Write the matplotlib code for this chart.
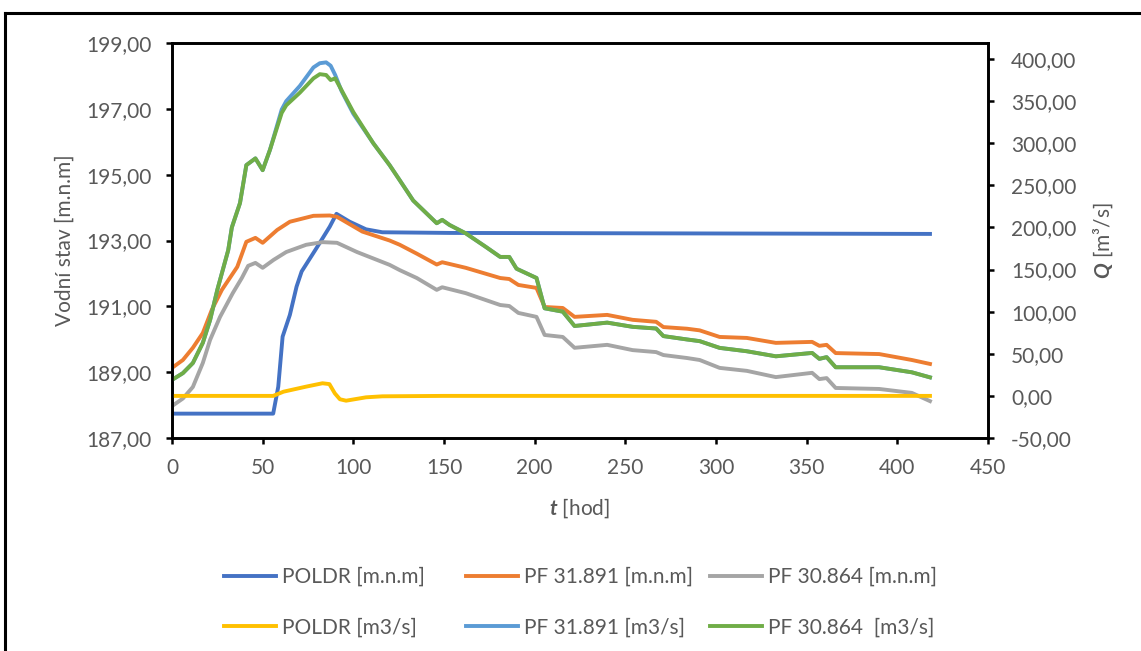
import matplotlib
matplotlib.use("Agg")
import matplotlib.pyplot as plt
from matplotlib.lines import Line2D
from matplotlib.ticker import FuncFormatter, MultipleLocator

plt.rcParams['font.family'] = ['Lato', 'DejaVu Sans']
plt.rcParams['mathtext.fontset'] = 'custom'
plt.rcParams['mathtext.rm'] = 'Lato'
plt.rcParams['mathtext.bfit'] = 'Lato:bold:italic'

# --- data ---
t_poldr_h = [0, 55.8, 58.6, 61, 65, 68.7, 71.5, 79.7, 87, 90.7, 98, 107, 116, 153, 418]
h_poldr = [187.74, 187.74, 188.56, 190.08, 190.74, 191.6, 192.06, 192.77, 193.42, 193.81,
           193.57, 193.34, 193.25, 193.23, 193.2]

t_pf1_h = [0, 6, 11.5, 17, 22, 27.5, 36, 41, 46, 50, 58, 65, 78, 87, 91, 105, 120, 125.6, 135,
           146, 149, 162, 181, 186, 191, 201, 205.5, 215.5, 222, 240, 254, 267, 271, 284, 291,
           302, 317, 333, 353, 357, 361, 366, 390, 408, 418]
h_pf1 = [189.13, 189.37, 189.74, 190.19, 190.9, 191.5, 192.2, 192.96, 193.08, 192.93, 193.32,
         193.57, 193.75, 193.76, 193.72, 193.27, 193.0, 192.87, 192.6, 192.27, 192.34, 192.17,
         191.86, 191.83, 191.65, 191.56, 190.98, 190.95, 190.68, 190.74, 190.59, 190.53, 190.37,
         190.32, 190.27, 190.07, 190.04, 189.89, 189.92, 189.8, 189.83, 189.58, 189.55, 189.37,
         189.25]

t_pf2_h = [0, 6, 11.5, 17, 21, 26.5, 33.5, 38.5, 42, 46, 50, 56, 63, 74, 83, 91, 102, 120, 125.6,
           135, 146, 149, 162, 181, 186, 191, 201, 205.5, 215.5, 222, 240, 254, 267, 271, 284,
           291, 302, 317, 333, 353, 357, 361, 366, 390, 408, 418]
h_pf2 = [187.97, 188.2, 188.55, 189.28, 189.98, 190.68, 191.4, 191.86, 192.23, 192.32, 192.17,
         192.41, 192.65, 192.87, 192.95, 192.93, 192.65, 192.26, 192.1, 191.86, 191.5, 191.58,
         191.4, 191.04, 191.01, 190.8, 190.68, 190.13, 190.07, 189.74, 189.83, 189.67, 189.61,
         189.52, 189.43, 189.37, 189.13, 189.04, 188.85, 188.98, 188.79, 188.82, 188.52, 188.49,
         188.37, 188.12]

t_poldr_q = [0, 55.8, 61.5, 74, 83, 86.8, 89.8, 92.6, 96, 107, 116, 150, 418]
q_poldr = [0, 0, 5, 11, 15, 14, 3, -4, -5.7, -1.7, -0.5, 0, 0]

t_pf_q = [0, 6, 11.5, 17, 21, 25, 31, 33, 37.5, 41, 46, 50, 54, 60.5, 63, 70.5, 78, 81.5, 85,
          87.5, 90, 93.5, 100, 111, 120, 125.6, 133, 146, 149, 153, 162, 173, 181, 186, 190,
          201, 205.5, 215.5, 222, 240, 254, 267, 271, 284, 291, 302, 317, 333, 353, 357, 361,
          366, 390, 408, 418]
q_pf1 = [19, 27, 39, 63, 90, 126, 173, 200, 229, 274, 282, 268, 292, 340, 350, 368, 390, 395,
         396, 392, 381, 362, 335, 300, 274, 256, 232, 205, 209, 203, 193, 177, 165, 165, 151,
         140, 104, 100, 83, 87, 82, 80, 71, 67, 65, 57, 53, 47, 51, 44, 46, 34, 34, 28, 22]
q_pf2 = [19, 27, 39, 63, 90, 126, 173, 200, 229, 274, 282, 268, 292, 336, 345, 360, 377, 382,
         381, 375, 377, 363, 337, 300, 274, 256, 232, 205, 209, 203, 193, 177, 165, 165, 151,
         140, 104, 100, 83, 87, 82, 80, 71, 67, 65, 57, 53, 47, 51, 44, 46, 34, 34, 28, 22]

h_ticks = [187, 189, 191, 193, 195, 197, 199]

labels = ["POLDR [m.n.m]", "PF 31.891 [m.n.m]", "PF 30.864 [m.n.m]",
          "POLDR [m3/s]", "PF 31.891 [m3/s]", "PF 30.864  [m3/s]"]
colors = ["#4472C4", "#ED7D31", "#A5A5A5", "#FFC000", "#5B9BD5", "#70AD47"]

txt = "#595959"
lw = 2.8

fig = plt.figure(figsize=(11.41, 6.51), dpi=100)
ax = fig.add_axes([172 / 1141, 1 - 438 / 651, 816 / 1141, 395 / 651])
ax2 = ax.twinx()

l1, = ax.plot(t_poldr_h, h_poldr, color=colors[0], lw=lw)
l2, = ax.plot(t_pf1_h, h_pf1, color=colors[1], lw=lw)
l3, = ax.plot(t_pf2_h, h_pf2, color=colors[2], lw=lw)
l4, = ax2.plot(t_poldr_q, q_poldr, color=colors[3], lw=lw)
l5, = ax2.plot(t_pf_q, q_pf1, color=colors[4], lw=lw)
l6, = ax2.plot(t_pf_q, q_pf2, color=colors[5], lw=lw)

ax.set_xlim(0, 450)
ax.set_ylim(187, 199)
ax2.set_ylim(-50, 419)
ax.xaxis.set_major_locator(MultipleLocator(50))
ax.set_yticks(h_ticks)
ax2.yaxis.set_major_locator(MultipleLocator(50))

comma = FuncFormatter(lambda v, p: f"{v:.2f}".replace(".", ","))
ax.yaxis.set_major_formatter(comma)
ax2.yaxis.set_major_formatter(comma)

for a in (ax, ax2):
    for s in a.spines.values():
        s.set_linewidth(1.9)
        s.set_color("black")
    a.tick_params(direction="out", length=4.5, width=1.8, colors="black",
                  labelcolor=txt, labelsize=15)
ax.tick_params(axis="y", pad=10)
ax.tick_params(axis="x", pad=10)
ax2.tick_params(axis="y", pad=12)

ax.set_ylabel("Vodní stav [m.n.m]", fontsize=15, color=txt)
ax.yaxis.set_label_coords(-0.119, 0.5)
ax2.set_ylabel(r"$\mathbfit{Q}$ [m³/s]", fontsize=15, color=txt)
ax2.yaxis.set_label_coords(1.127, 0.5)
ax.set_xlabel(r"$\mathbfit{t}$ [hod]", fontsize=15, color=txt)
ax.xaxis.set_label_coords(0.5, -0.147)

# legenda - tri sloupce po dvou radcich
cols_x = [224, 466, 710]
handles = [(l1, l4), (l2, l5), (l3, l6)]
names = [(labels[0], labels[3]), (labels[1], labels[4]), (labels[2], labels[5])]
for x0, hs, ns in zip(cols_x, handles, names):
    fig.legend(hs, ns, loc="upper left", bbox_to_anchor=(x0 / 1141, 1 - 567 / 651),
               frameon=False, fontsize=15, labelcolor=txt, handlelength=2.5,
               handletextpad=0.3, labelspacing=1.45, borderpad=0, borderaxespad=0)

# vnejsi ramecek
fig.add_artist(Line2D([5 / 1141, 1], [1 - 13 / 651, 1 - 13 / 651], color="black", lw=2.2,
                      transform=fig.transFigure))
fig.add_artist(Line2D([5 / 1141, 5 / 1141], [0, 1 - 13 / 651], color="black", lw=2.2,
                      transform=fig.transFigure))

fig.savefig("out.png", dpi=100)
